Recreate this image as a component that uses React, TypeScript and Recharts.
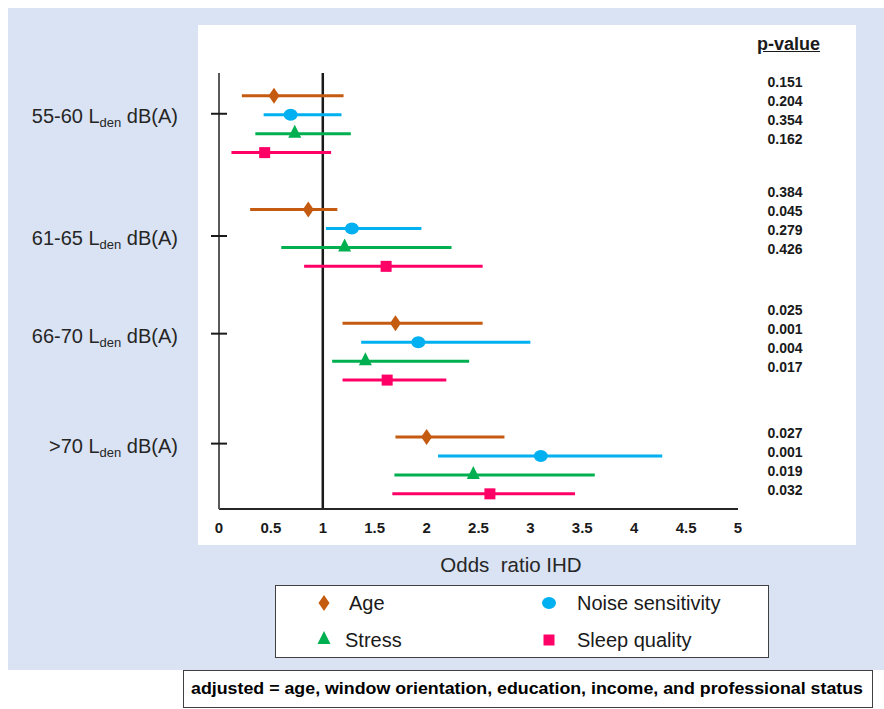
import React from "react";
import {
  ScatterChart,
  Scatter,
  XAxis,
  YAxis,
  ErrorBar,
  ReferenceLine,
  Legend,
} from "recharts";

const bands = ["55-60", "61-65", "66-70", ">70"];
const seriesNames = ["Age", "Noise sensitivity", "Stress", "Sleep quality"];
const seriesColors = ["#c55a11", "#00b0f0", "#00b050", "#ff0066"];

// odds ratio with 95% CI, one value per noise band
const ageOR = [0.53, 0.86, 1.7, 2.0];
const ageLo = [0.22, 0.3, 1.19, 1.7];
const ageHi = [1.2, 1.14, 2.54, 2.75];
const noiseOR = [0.69, 1.28, 1.92, 3.1];
const noiseLo = [0.43, 1.03, 1.37, 2.11];
const noiseHi = [1.18, 1.95, 3.0, 4.27];
const stressOR = [0.73, 1.21, 1.41, 2.45];
const stressLo = [0.35, 0.6, 1.09, 1.69];
const stressHi = [1.27, 2.24, 2.41, 3.62];
const sleepOR = [0.44, 1.61, 1.62, 2.61];
const sleepLo = [0.12, 0.82, 1.19, 1.67];
const sleepHi = [1.08, 2.54, 2.19, 3.43];

const ageP = ["0.151", "0.384", "0.025", "0.027"];
const noiseP = ["0.204", "0.045", "0.001", "0.001"];
const stressP = ["0.354", "0.279", "0.004", "0.019"];
const sleepP = ["0.162", "0.426", "0.017", "0.032"];

const xTicks = [0, 0.5, 1, 1.5, 2, 2.5, 3, 3.5, 4, 4.5, 5];

// row layout: each band takes 6 slots (4 rows + gap)
const SLOTS = 6;
const yDomain: [number, number] = [-1.2, 21.8];
const bandTickPos = [0.95, 7.4, 12.55, 18.35];
const pShift = [-0.72, -0.9, -0.7, -0.2];

const seriesOR = [ageOR, noiseOR, stressOR, sleepOR];
const seriesLo = [ageLo, noiseLo, stressLo, sleepLo];
const seriesHi = [ageHi, noiseHi, stressHi, sleepHi];
const seriesP = [ageP, noiseP, stressP, sleepP];

const seriesData = seriesOR.map((ors, s) =>
  ors.map((or, b) => ({
    x: or,
    y: b * SLOTS + s,
    err: [or - seriesLo[s][b], seriesHi[s][b] - or],
  }))
);

const pTicks: number[] = [];
const pLabels: string[] = [];
bands.forEach((_, b) => {
  seriesP.forEach((ps, s) => {
    pTicks.push(b * SLOTS + s + pShift[b]);
    pLabels.push(ps[b]);
  });
});

const FONT = "'Liberation Sans', Arial, sans-serif";
const NARROW = "'Liberation Sans Narrow', 'Arial Narrow', 'Liberation Sans', Arial, sans-serif";

function Marker({ kind, cx, cy, color }: { kind: number; cx: number; cy: number; color: string }) {
  if (kind === 0)
    return <polygon points={`${cx},${cy - 8} ${cx + 5.5},${cy} ${cx},${cy + 8} ${cx - 5.5},${cy}`} fill={color} />;
  if (kind === 1) return <ellipse cx={cx} cy={cy} rx={7} ry={6} fill={color} />;
  if (kind === 2)
    return <polygon points={`${cx},${cy - 9} ${cx + 6.5},${cy + 4} ${cx - 6.5},${cy + 4}`} fill={color} />;
  return <rect x={cx - 5.5} y={cy - 5.5} width={11} height={11} fill={color} />;
}

const BandTick = (props: any) => {
  const { x, y, payload } = props;
  const i = bandTickPos.findIndex((v) => Math.abs(v - payload.value) < 1e-6);
  return (
    <g>
      <line x1={x - 8} x2={x + 8} y1={y} y2={y} stroke="#1a1a1a" strokeWidth={2} />
      <text x={x - 41} y={y + 9} textAnchor="end" fontSize={20} fill="#262626" fontFamily={FONT}>
        <tspan>{bands[i]} L</tspan>
        <tspan fontSize={13} dy={4}>den</tspan>
        <tspan dy={-4}> dB(A)</tspan>
      </text>
    </g>
  );
};

const PTick = (props: any) => {
  const { x, y, payload } = props;
  const i = pTicks.findIndex((v) => Math.abs(v - payload.value) < 1e-6);
  return (
    <text x={x + 47} y={y + 5} textAnchor="middle" fontSize={14} fontWeight="bold" fill="#1a1a1a" fontFamily={NARROW}>
      {pLabels[i]}
    </text>
  );
};

const LegendContent = () => (
  <div
    style={{
      width: 494,
      height: 73,
      boxSizing: "border-box",
      border: "1.5px solid #404040",
      background: "#fff",
      position: "relative",
      fontFamily: FONT,
    }}
  >
    {seriesNames.map((name, i) => {
      const row = Math.floor(i / 2);
      const col = i % 2;
      return (
        <div
          key={name}
          style={{ position: "absolute", left: col === 0 ? 36 : 261, top: row === 0 ? 5 : 42, height: 24, display: "flex", alignItems: "center" }}
        >
          <svg width={24} height={24}>
            <Marker kind={i} cx={12} cy={12} color={seriesColors[i]} />
          </svg>
          <span style={{ fontSize: 20, color: "#1a1a1a", marginLeft: col === 0 ? (i === 0 ? 13 : 9) : 16 }}>{name}</span>
        </div>
      );
    })}
  </div>
);

export default function App() {
  return (
    <div style={{ position: "absolute", left: 0, top: 0, width: 884, height: 709, background: "#fff", overflow: "hidden", fontFamily: FONT }}>
      <div style={{ position: "absolute", left: 8, top: 8, width: 876, height: 662, background: "#dae3f3" }} />
      <div style={{ position: "absolute", left: 198, top: 25, width: 658, height: 520, background: "#fff" }} />
      <div
        style={{
          position: "absolute",
          left: 757,
          top: 34,
          fontSize: 18,
          fontWeight: "bold",
          textDecoration: "underline",
          color: "#1a1a1a",
          fontFamily: NARROW,
        }}
      >
        p-value
      </div>
      <div style={{ position: "absolute", left: 311, width: 400, top: 553, textAlign: "center", fontSize: 20.5, color: "#262626" }}>
        Odds&nbsp;&nbsp;ratio IHD
      </div>
      <div style={{ position: "absolute", left: 0, top: 0 }}>
        <ScatterChart width={884} height={709} margin={{ top: 73, right: 46, bottom: 160, left: 119 }}>
          <XAxis
            type="number"
            dataKey="x"
            domain={[0, 5]}
            ticks={xTicks}
            interval={0}
            tickLine={false}
            tickSize={0}
            tickMargin={13}
            height={40}
            axisLine={{ stroke: "#262626", strokeWidth: 2 }}
            tick={{ fill: "#1a1a1a", fontSize: 15, fontWeight: "bold", fontFamily: FONT }}
          />
          <YAxis
            yAxisId="left"
            type="number"
            dataKey="y"
            domain={yDomain}
            reversed
            allowDataOverflow
            ticks={bandTickPos}
            interval={0}
            width={100}
            tickLine={false}
            tickSize={0}
            tickMargin={0}
            axisLine={{ stroke: "#595959", strokeWidth: 2 }}
            tick={<BandTick />}
          />
          <YAxis
            yAxisId="p"
            orientation="right"
            type="number"
            domain={yDomain}
            reversed
            allowDataOverflow
            ticks={pTicks}
            interval={0}
            width={100}
            tickLine={false}
            tickSize={0}
            tickMargin={0}
            axisLine={false}
            tick={<PTick />}
          />
          <ReferenceLine yAxisId="left" x={1} stroke="#1a1a1a" strokeWidth={2.5} />
          <Legend
            layout="horizontal"
            verticalAlign="middle"
            align="center"
            wrapperStyle={{ left: 275, top: 585, width: 494, height: 73 }}
            content={<LegendContent />}
          />
          {seriesData.map((data, s) => (
            <Scatter
              key={seriesNames[s]}
              name={seriesNames[s]}
              yAxisId="left"
              data={data}
              fill={seriesColors[s]}
              isAnimationActive={false}
              shape={(p: any) => <Marker kind={s} cx={p.cx} cy={p.cy} color={seriesColors[s]} />}
            >
              <ErrorBar dataKey="err" direction="x" width={0} strokeWidth={3} stroke={seriesColors[s]} isAnimationActive={false} />
            </Scatter>
          ))}
        </ScatterChart>
      </div>
      <div
        style={{
          position: "absolute",
          left: 183,
          top: 670,
          width: 690,
          height: 38,
          boxSizing: "border-box",
          border: "1.5px solid #404040",
          background: "#fff",
        }}
      >
        <svg width={687} height={35} style={{ display: "block" }}>
          <text x={343} y={23} textAnchor="middle" fontSize={17} fontWeight="bold" fill="#000" fontFamily={NARROW} textLength={672} lengthAdjust="spacingAndGlyphs">
            adjusted = age, window orientation, education, income, and professional status
          </text>
        </svg>
      </div>
    </div>
  );
}
